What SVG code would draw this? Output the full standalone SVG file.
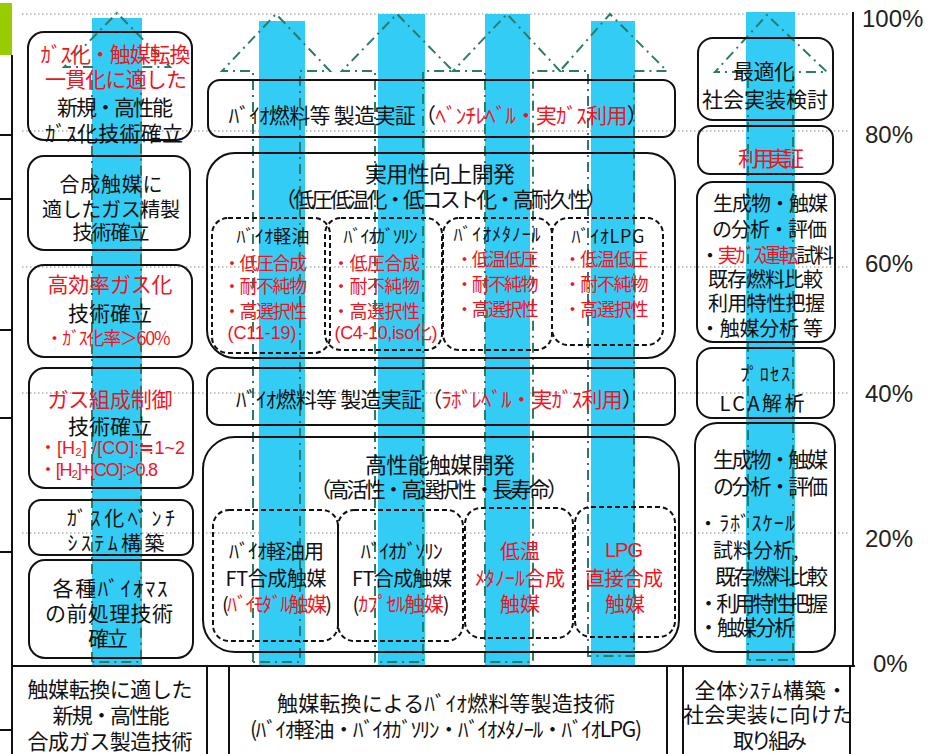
<svg xmlns="http://www.w3.org/2000/svg" width="932" height="754" viewBox="0 0 932 754">
<style>
.t{font-family:'Noto Sans CJK JP','Noto Sans CJK SC',sans-serif;font-size:21px;fill:#111;text-anchor:middle;dominant-baseline:central}
.s{font-size:18px}
.m{font-size:20px}
.l{text-anchor:start}
.r{fill:#f0141e}
.k{fill:#111}
.lat{font-family:'Liberation Sans','Noto Sans CJK JP',sans-serif}
.box{fill:none;stroke:#111;stroke-width:2}
.dbox{fill:none;stroke:#111;stroke-width:2;stroke-dasharray:5 3}
.bar{fill:#33ccf5}
.arr{fill:none;stroke:#2b7b6b;stroke-width:2;stroke-dasharray:10 5 2 5}
.grid{stroke:#888;stroke-width:1;stroke-dasharray:1.5 2.5}
.ln{stroke:#111;stroke-width:2;fill:none}
.pct{font-family:'Liberation Sans',Arial,sans-serif;font-size:24px;fill:#222}
</style>
<defs>
<clipPath id="c3"><rect x="683" y="667" width="167" height="87"/></clipPath>
</defs>

<g id="grid">
<line class="grid" x1="22" y1="14" x2="850" y2="14"/>
<line class="grid" x1="22" y1="131" x2="850" y2="131"/>
<line class="grid" x1="22" y1="267" x2="850" y2="267"/>
<line class="grid" x1="22" y1="393" x2="850" y2="393"/>
<line class="grid" x1="22" y1="533" x2="850" y2="533"/>
</g>

<g id="bars">
<rect class="bar" x="92" y="18" width="50" height="647"/>
<rect class="bar" x="259" y="21" width="46" height="644"/>
<rect class="bar" x="378" y="14" width="47" height="651"/>
<rect class="bar" x="485" y="14" width="45" height="651"/>
<rect class="bar" x="591" y="21" width="44" height="644"/>
<rect class="bar" x="746" y="12" width="49" height="653"/>
</g>

<g id="connectors">
<path class="arr" d="M92,662 V67 H64 L117,13 L170,67 H141 V662 Z"/>
<path class="arr" d="M253,662 V71 H222 L276,14 L330,71 H300 V662 Z"/>
<path class="arr" d="M375,662 V71 H342 L397,14 L453,71 H423 V662 Z"/>
<path class="arr" d="M485,662 V71 H453 L507,14 L560,71 H533 V662 Z"/>
<path class="arr" d="M588,656 V71 H560 L610,14 L667,71 H634 V656 Z"/>
<path class="arr" d="M748,660 V72 H715 L767,15 L827,72 H793 V660 Z"/>
</g>

<g id="frame">
<rect x="0" y="3" width="12" height="52" fill="#99cc00"/>
<line class="ln" x1="12" y1="55" x2="12" y2="754"/>
<line class="ln" x1="0" y1="135" x2="12" y2="135"/>
<line class="ln" x1="0" y1="199" x2="12" y2="199"/>
<line class="ln" x1="0" y1="330" x2="12" y2="330"/>
<line class="ln" x1="0" y1="418" x2="12" y2="418"/>
<line class="ln" x1="0" y1="552" x2="12" y2="552"/>
<line class="ln" x1="0" y1="730" x2="12" y2="730"/>
<line class="ln" x1="12" y1="666" x2="855" y2="666"/>
<line class="ln" x1="853" y1="12" x2="853" y2="666"/>
<line class="ln" x1="207" y1="666" x2="207" y2="754"/>
<line class="ln" x1="229" y1="666" x2="229" y2="754"/>
<line class="ln" x1="667" y1="666" x2="667" y2="754"/>
<line class="ln" x1="683" y1="666" x2="683" y2="754"/>
<line class="ln" x1="850" y1="666" x2="850" y2="754"/>
<text class="pct" x="862" y="27">100%</text>
<text class="pct" x="865" y="143">80%</text>
<text class="pct" x="865" y="272">60%</text>
<text class="pct" x="865" y="402">40%</text>
<text class="pct" x="865" y="547">20%</text>
<text class="pct" x="873" y="672">0%</text>
</g>

<g id="L1">
<rect class="box" x="28" y="32" width="164" height="108" rx="16"/>
<text class="t r" x="115" y="53" textLength="150">ｶﾞｽ化・触媒転換</text>
<text class="t r" x="116" y="78" textLength="142">一貫化に適した</text>
<text class="t" x="115" y="106" textLength="116">新規・高性能</text>
<text class="t" x="114" y="132" textLength="138">ｶﾞｽ化技術確立</text>
</g>
<g id="L2">
<rect class="box" x="28" y="156" width="162" height="94" rx="16"/>
<text class="t m" x="111" y="183" textLength="103">合成触媒に</text>
<text class="t m" x="111" y="208" textLength="138">適したガス精製</text>
<text class="t m" x="111" y="231" textLength="77">技術確立</text>
</g>
<g id="L3">
<rect class="box" x="28" y="265" width="164" height="92" rx="16"/>
<text class="t r" x="110" y="283" textLength="125">高効率ガス化</text>
<text class="t" x="110" y="312" textLength="84">技術確立</text>
<text class="t r s" x="108" y="337" textLength="125">・ｶﾞｽ化率＞60%</text>
</g>
<g id="L4">
<rect class="box" x="29" y="368" width="164" height="120" rx="16"/>
<text class="t r" x="110" y="398" textLength="125">ガス組成制御</text>
<text class="t" x="110" y="425" textLength="84">技術確立</text>
<text class="t r s lat l" x="39" y="448" textLength="146">・[H₂] /[CO]:≒1~2</text>
<text class="t r s lat l" x="39" y="470" textLength="119">・[H₂]+[CO]:&gt;0.8</text>
</g>
<g id="L5">
<rect class="box" x="29" y="500" width="164" height="55" rx="12"/>
<text class="t m" x="121" y="517" textLength="108">ｶﾞｽ化ﾍﾞﾝﾁ</text>
<text class="t m" x="116" y="542" textLength="97">ｼｽﾃﾑ構築</text>
</g>
<g id="L6">
<rect class="box" x="29" y="560" width="164" height="98" rx="16"/>
<text class="t" x="110" y="587" textLength="115">各種ﾊﾞｲｵﾏｽ</text>
<text class="t" x="109" y="612" textLength="128">の前処理技術</text>
<text class="t" x="108" y="637" textLength="40">確立</text>
</g>

<g id="M1">
<rect class="box" x="208" y="80" width="467" height="57" rx="12"/>
<text class="t" x="438" y="114" textLength="419">ﾊﾞｲｵ燃料等 製造実証（<tspan class="r">ﾍﾞﾝﾁﾚﾍﾞﾙ・実ｶﾞｽ利用</tspan>）</text>
</g>

<g id="M2">
<rect class="box" x="207" y="153" width="468" height="205" rx="28"/>
<text class="t" x="440" y="172" style="font-size:22px" textLength="150">実用性向上開発</text>
<text class="t" x="441" y="198" textLength="332">（低圧低温化・低コスト化・高耐久性）</text>
</g>
<g id="S1">
<rect class="dbox" x="212" y="218" width="118" height="135" rx="16"/>
<text class="t s" x="273" y="235" textLength="73">ﾊﾞｲｵ軽油</text>
<text class="t s r" x="265" y="262" textLength="84">・低圧合成</text>
<text class="t s r" x="265" y="285" textLength="84">・耐不純物</text>
<text class="t s r" x="265" y="310" textLength="84">・高選択性</text>
<text class="t s r lat" x="262" y="333" textLength="69">(C11-19)</text>
</g>
<g id="S2">
<rect class="dbox" x="325" y="218" width="117" height="132" rx="16"/>
<text class="t s" x="380" y="235" textLength="74">ﾊﾞｲｵｶﾞｿﾘﾝ</text>
<text class="t s r" x="376" y="262" textLength="88">・低圧合成</text>
<text class="t s r" x="376" y="285" textLength="88">・耐不純物</text>
<text class="t s r" x="376" y="310" textLength="88">・高選択性</text>
<text class="t s r lat" x="386" y="333" textLength="103">(C4-10,iso化)</text>
</g>
<g id="S3">
<rect class="dbox" x="443" y="218" width="109" height="132" rx="16"/>
<text class="t s" x="497" y="233" textLength="87">ﾊﾞｲｵﾒﾀﾉｰﾙ</text>
<text class="t s r" x="497" y="258" textLength="83">・低温低圧</text>
<text class="t s r" x="497" y="283" textLength="83">・耐不純物</text>
<text class="t s r" x="497" y="308" textLength="83">・高選択性</text>
</g>
<g id="S4">
<rect class="dbox" x="552" y="218" width="111" height="127" rx="16"/>
<text class="t s" x="608" y="235" textLength="73">ﾊﾞｲｵLPG</text>
<text class="t s r" x="606" y="258" textLength="85">・低温低圧</text>
<text class="t s r" x="606" y="283" textLength="85">・耐不純物</text>
<text class="t s r" x="606" y="308" textLength="85">・高選択性</text>
</g>

<g id="M3">
<rect class="box" x="207" y="368" width="468" height="57" rx="12"/>
<text class="t" x="439" y="398" textLength="407">ﾊﾞｲｵ燃料等 製造実証（<tspan class="r">ﾗﾎﾞﾚﾍﾞﾙ・実ｶﾞｽ利用</tspan>）</text>
</g>

<g id="M4">
<rect class="box" x="203" y="437" width="476" height="215" rx="32"/>
<text class="t" x="440" y="463" style="font-size:22px" textLength="150">高性能触媒開発</text>
<text class="t" x="439" y="488" textLength="258">（高活性・高選択性・長寿命）</text>
</g>
<g id="T1">
<rect class="dbox" x="213" y="510" width="125" height="131" rx="16"/>
<text class="t m" x="276" y="550" textLength="95">ﾊﾞｲｵ軽油用</text>
<text class="t m" x="276" y="577" textLength="101">FT合成触媒</text>
<text class="t m" x="277" y="603" textLength="110">(<tspan class="r">ﾊﾞｲﾓﾀﾞﾙ触媒</tspan>)</text>
</g>
<g id="T2">
<rect class="dbox" x="338" y="510" width="125" height="131" rx="16"/>
<text class="t m" x="401" y="550" textLength="82">ﾊﾞｲｵｶﾞｿﾘﾝ</text>
<text class="t m" x="402" y="577" textLength="100">FT合成触媒</text>
<text class="t m" x="401" y="603" textLength="97">(<tspan class="r">ｶﾌﾟｾﾙ触媒</tspan>)</text>
</g>
<g id="T3">
<rect class="dbox" x="465" y="508" width="108" height="130" rx="16"/>
<text class="t m r" x="520" y="550" textLength="40">低温</text>
<text class="t m r" x="520" y="577" textLength="90">ﾒﾀﾉｰﾙ合成</text>
<text class="t m r" x="520" y="603" textLength="40">触媒</text>
</g>
<g id="T4">
<rect class="dbox" x="575" y="507" width="100" height="130" rx="16"/>
<text class="t m r lat" x="624" y="550" textLength="38">LPG</text>
<text class="t m r" x="624" y="577" textLength="78">直接合成</text>
<text class="t m r" x="625" y="603" textLength="40">触媒</text>
</g>

<g id="R1">
<rect class="box" x="698" y="38" width="135" height="82" rx="15"/>
<text class="t" x="764" y="70" textLength="62">最適化</text>
<text class="t" x="765" y="98" textLength="126">社会実装検討</text>
</g>
<g id="R2">
<rect class="box" x="698" y="126" width="135" height="48" rx="12"/>
<text class="t r" x="771" y="157" textLength="66">利用実証</text>
</g>
<g id="R3">
<rect class="box" x="697" y="182" width="138" height="160" rx="16"/>
<text class="t m l" x="713" y="202" textLength="115">生成物・触媒</text>
<text class="t m l" x="712" y="228" textLength="115">の分析・評価</text>
<text class="t m l" x="700" y="254" textLength="134">・<tspan class="r">実ｶﾞｽ運転</tspan>試料</text>
<text class="t m l" x="708" y="278" textLength="115">既存燃料比較</text>
<text class="t m l" x="708" y="302" textLength="117">利用特性把握</text>
<text class="t m l" x="700" y="327" textLength="123">・触媒分析 等</text>
</g>
<g id="R4">
<rect class="box" x="697" y="348" width="137" height="70" rx="15"/>
<text class="t s" x="765" y="373" textLength="50">ﾌﾟﾛｾｽ</text>
<text class="t m" x="762" y="402" textLength="85">LCA解析</text>
</g>
<g id="R5">
<rect class="box" x="695" y="423" width="140" height="229" rx="22"/>
<text class="t l" x="713" y="458" textLength="115">生成物・触媒</text>
<text class="t l" x="713" y="485" textLength="115">の分析・評価</text>
<text class="t m l" x="698" y="522" textLength="97">・ﾗﾎﾞｽｹｰﾙ</text>
<text class="t m l" x="713" y="549">試料分析,</text>
<text class="t l" x="715" y="575" textLength="113">既存燃料比較</text>
<text class="t l" x="698" y="602" textLength="130">・利用特性把握</text>
<text class="t l" x="698" y="626" textLength="97">・触媒分析</text>
</g>

<g id="B1">
<text class="t" x="110" y="688" textLength="165">触媒転換に適した</text>
<text class="t" x="111" y="714" textLength="117">新規・高性能</text>
<text class="t" x="110" y="740" textLength="165">合成ガス製造技術</text>
</g>
<g id="B2">
<text class="t" x="446" y="702" textLength="338">触媒転換によるﾊﾞｲｵ燃料等製造技術</text>
<text class="t" x="446" y="728" textLength="392">(ﾊﾞｲｵ軽油・ﾊﾞｲｵｶﾞｿﾘﾝ・ﾊﾞｲｵﾒﾀﾉｰﾙ・ﾊﾞｲｵLPG)</text>
</g>
<g id="B3" clip-path="url(#c3)">
<text class="t" x="771" y="689" textLength="153">全体ｼｽﾃﾑ構築・</text>
<text class="t" x="768" y="713" textLength="170">社会実装に向けた</text>
<text class="t" x="770" y="739" textLength="74">取り組み</text>
</g>
</svg>
